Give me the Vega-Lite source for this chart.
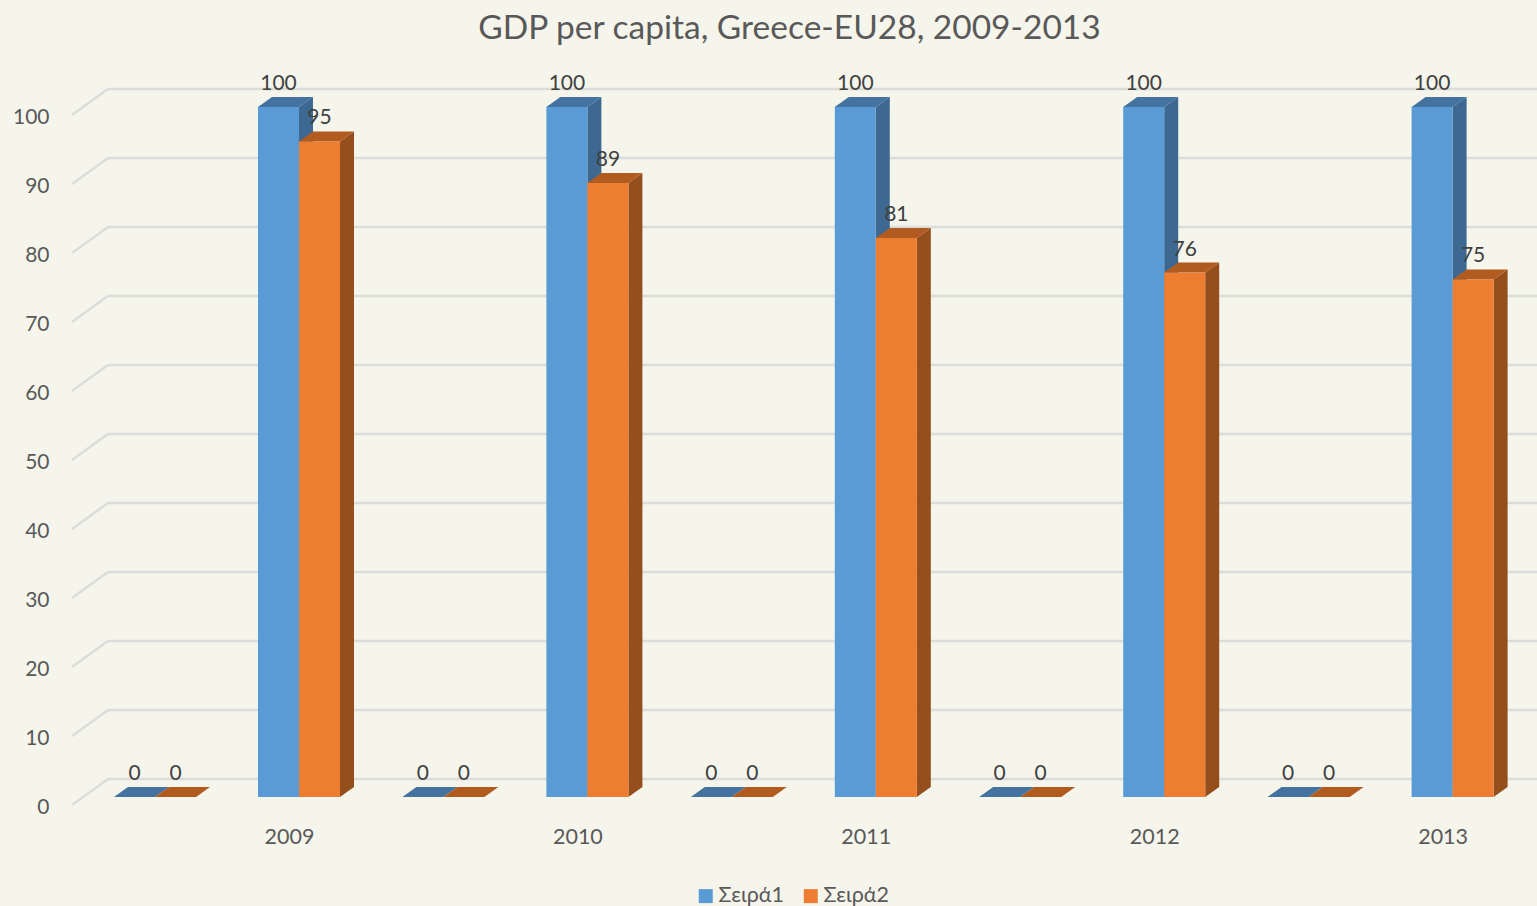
{
"$schema":"https://vega.github.io/schema/vega-lite/v6.json",
"width":1465,"height":745,
"autosize":{"type":"none"},
"padding":{"left":72,"top":60,"right":0,"bottom":101},
"background":"#f5f5ec",
"title":{"text":"GDP per capita, Greece-EU28, 2009-2013","font":"Lato","fontSize":33.5,"fontWeight":"normal","color":"#595959","anchor":"middle","dx":-15,"offset":14},
"config":{"view":{"stroke":null},"font":"Lato"},
"datasets":{
"grid":[{"tick":0},{"tick":10},{"tick":20},{"tick":30},{"tick":40},{"tick":50},{"tick":60},{"tick":70},{"tick":80},{"tick":90},{"tick":100}],
"bars":[
{"year":2009,"slot":"blank","series":"Σειρά1","value":0},{"year":2009,"slot":"blank","series":"Σειρά2","value":0},
{"year":2009,"slot":"main","series":"Σειρά1","value":100},{"year":2009,"slot":"main","series":"Σειρά2","value":95},
{"year":2010,"slot":"blank","series":"Σειρά1","value":0},{"year":2010,"slot":"blank","series":"Σειρά2","value":0},
{"year":2010,"slot":"main","series":"Σειρά1","value":100},{"year":2010,"slot":"main","series":"Σειρά2","value":89},
{"year":2011,"slot":"blank","series":"Σειρά1","value":0},{"year":2011,"slot":"blank","series":"Σειρά2","value":0},
{"year":2011,"slot":"main","series":"Σειρά1","value":100},{"year":2011,"slot":"main","series":"Σειρά2","value":81},
{"year":2012,"slot":"blank","series":"Σειρά1","value":0},{"year":2012,"slot":"blank","series":"Σειρά2","value":0},
{"year":2012,"slot":"main","series":"Σειρά1","value":100},{"year":2012,"slot":"main","series":"Σειρά2","value":76},
{"year":2013,"slot":"blank","series":"Σειρά1","value":0},{"year":2013,"slot":"blank","series":"Σειρά2","value":0},
{"year":2013,"slot":"main","series":"Σειρά1","value":100},{"year":2013,"slot":"main","series":"Σειρά2","value":75}
]},
"resolve":{"scale":{"color":"independent"}},
"layer":[
{"data":{"name":"grid"},
 "transform":[{"calculate":"datum.tick+3.768","as":"back"}],
 "layer":[
 {"mark":{"type":"rule","color":"#dcdcd9","strokeWidth":2.5},
  "encoding":{
   "x":{"datum":2008.2476,"type":"quantitative","title":null,"scale":{"domain":[2008.2476,2013.3273],"nice":false,"zero":false},
        "axis":{"title":null,"values":[2009,2010,2011,2012,2013],"format":"d","grid":false,"domain":false,"ticks":false,"labelPadding":21,"labelFontSize":21.5,"labelColor":"#595959","labelFont":"Lato"}},
   "x2":{"datum":2008.3724},
   "y":{"field":"tick","type":"quantitative","title":null,"scale":{"domain":[0,107.97],"nice":false},
        "axis":{"title":null,"values":[0,10,20,30,40,50,60,70,80,90,100],"grid":false,"domain":false,"ticks":false,"labelPadding":23,"labelOffset":2.5,"labelFontSize":21,"labelColor":"#595959","labelFont":"Lato"}},
   "y2":{"field":"back"}}},
 {"mark":{"type":"rule","color":"#dcdcd9","strokeWidth":2.5},
  "encoding":{
   "x":{"datum":2008.3724,"type":"quantitative","title":null,"scale":{"domain":[2008.2476,2013.3273],"nice":false,"zero":false}},
   "x2":{"datum":2013.3273},
   "y":{"field":"back","type":"quantitative","title":null,"scale":{"domain":[0,107.97],"nice":false}}}}
 ]},
{"data":{"name":"bars"},
 "transform":[
  {"calculate":"datum.year+(datum.slot==='blank'?-0.4646:0.0347)+(datum.series==='Σειρά1'?-0.0711:0.0711)","as":"xc"},
  {"calculate":"datum.xc-0.0711","as":"xl"},
  {"calculate":"datum.xc+0.0711","as":"xr"},
  {"calculate":"datum.year+datum.slot+datum.series","as":"id"}
 ],
 "resolve":{"scale":{"color":"independent"}},
 "layer":[
 {"transform":[
   {"calculate":"[0,1]","as":"pt"},{"flatten":["pt"]},
   {"calculate":"datum.xr+datum.pt*0.0485","as":"fx"},
   {"calculate":"datum.pt*1.449","as":"fy"},
   {"calculate":"datum.value+datum.pt*1.449","as":"fy2"}],
  "mark":{"type":"area","orient":"vertical","yOffset":-8,"y2Offset":-8},
  "encoding":{
   "x":{"field":"fx","type":"quantitative","title":null,"scale":{"domain":[2008.2476,2013.3273],"nice":false,"zero":false}},
   "y":{"field":"fy","type":"quantitative","title":null,"scale":{"domain":[0,107.97],"nice":false}},
   "y2":{"field":"fy2"},
   "detail":{"field":"id"},
   "color":{"field":"series","type":"nominal","legend":null,"scale":{"domain":["Σειρά1","Σειρά2"],"range":["#3c6891","#954f1c"]}}}},
 {"transform":[
   {"calculate":"[0,1,2,3]","as":"pt"},{"flatten":["pt"]},
   {"calculate":"datum.pt===0?datum.xl:datum.pt===1?datum.xl+0.0485:datum.pt===2?datum.xr:datum.xr+0.0485","as":"fx"},
   {"calculate":"datum.pt===3?datum.value+1.449:datum.value","as":"fy"},
   {"calculate":"datum.pt===0?datum.value:datum.value+1.449","as":"fy2"}],
  "mark":{"type":"area","orient":"vertical","yOffset":-8,"y2Offset":-8},
  "encoding":{
   "x":{"field":"fx","type":"quantitative","title":null,"scale":{"domain":[2008.2476,2013.3273],"nice":false,"zero":false}},
   "y":{"field":"fy","type":"quantitative","title":null,"scale":{"domain":[0,107.97],"nice":false}},
   "y2":{"field":"fy2"},
   "detail":{"field":"id"},
   "color":{"field":"series","type":"nominal","legend":null,"scale":{"domain":["Σειρά1","Σειρά2"],"range":["#44739f","#b25b20"]}}}},
 {"mark":{"type":"bar","yOffset":-8,"y2Offset":-8},
  "encoding":{
   "x":{"field":"xl","type":"quantitative","title":null,"scale":{"domain":[2008.2476,2013.3273],"nice":false,"zero":false}},
   "x2":{"field":"xr"},
   "y":{"field":"value","type":"quantitative","title":null,"stack":null,"scale":{"domain":[0,107.97],"nice":false}},
   "y2":{"datum":0},
   "color":{"field":"series","type":"nominal","scale":{"domain":["Σειρά1","Σειρά2"],"range":["#5b9bd5","#ed7d31"]},
    "legend":{"orient":"none","legendX":623,"legendY":825,"direction":"horizontal","title":null,"padding":0,"symbolType":"square","symbolSize":196,"symbolStrokeWidth":0,"labelFontSize":21.5,"labelColor":"#595959","labelFont":"Lato","labelOffset":2,"columnPadding":15}}}},
 {"mark":{"type":"text","yOffset":-31,"baseline":"middle","align":"center","font":"Lato","fontSize":21,"color":"#404040"},
  "encoding":{
   "x":{"field":"xc","type":"quantitative","title":null,"scale":{"domain":[2008.2476,2013.3273],"nice":false,"zero":false}},
   "y":{"field":"value","type":"quantitative","title":null,"stack":null,"scale":{"domain":[0,107.97],"nice":false}},
   "text":{"field":"value","type":"quantitative"}}}
 ]}
]
}
